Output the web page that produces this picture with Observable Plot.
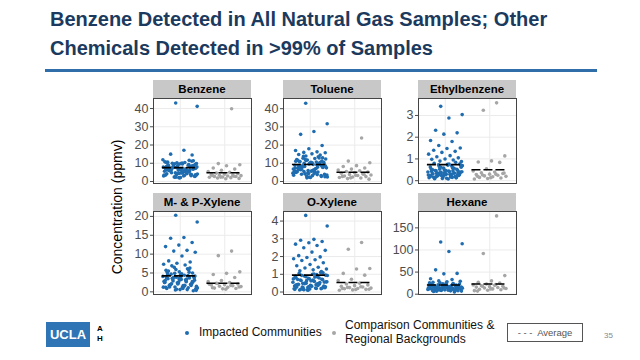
<!DOCTYPE html>
<html><head><meta charset="utf-8">
<script src="https://cdn.jsdelivr.net/npm/d3@7"></script>
<script src="https://cdn.jsdelivr.net/npm/@observablehq/plot@0.6"></script>
<style>
body{margin:0;background:#fff;}
#slide{position:relative;width:640px;height:360px;overflow:hidden;font-family:"Liberation Sans",Arial,sans-serif;background:#fff;}
.abs{position:absolute;white-space:nowrap;}
#title{left:50px;top:5px;font-weight:bold;font-size:20px;line-height:29px;color:#1b3a5e;}
#rule{left:45px;top:69px;width:552px;height:3px;background:#2f6ea8;}
.strip{position:absolute;background:#c8c8c8;color:#000;font-weight:bold;font-size:11.5px;text-align:center;}
#ylab{left:117px;top:207px;font-size:14px;color:#000;transform:translate(-50%,-50%) rotate(-90deg);}
.leg{font-size:12px;color:#111;}
.dot{position:absolute;width:4px;height:4px;border-radius:50%;}
#ucla{left:46px;top:322px;width:44px;height:25px;background:#2f74b5;color:#fff;font-weight:bold;font-size:13px;line-height:25px;text-align:center;}
#ah{left:97px;top:324px;font-size:8px;font-weight:bold;line-height:10px;color:#000;}
#avgbox{left:507px;top:323px;width:76px;height:19px;border:1px solid #555;box-sizing:border-box;font-size:9.5px;color:#555;line-height:17px;text-align:center;}
#page{left:604px;top:331px;font-size:8px;color:#888;}
</style>
</head><body>
<div id="slide">
  <div id="title" class="abs">Benzene Detected in All Natural Gas Samples; Other<br>Chemicals Detected in &gt;99% of Samples</div>
  <div id="rule" class="abs"></div>
  <div id="ylab" class="abs">Concentration (ppmv)</div>
  <div id="ucla" class="abs">UCLA</div>
  <div id="ah" class="abs">A<br>H</div>
  <div class="dot" style="left:185px;top:331px;background:#1f6db0"></div>
  <div class="abs leg" style="left:199px;top:325px;">Impacted Communities</div>
  <div class="dot" style="left:332px;top:331px;background:#a6a6a6"></div>
  <div class="abs leg" style="left:345px;top:318px;line-height:14px;">Comparison Communities &amp;<br>Regional Backgrounds</div>
  <div id="avgbox" class="abs">- - -&nbsp; Average</div>
  <div id="page" class="abs">35</div>
</div>
<script>
// ---------- data (ppmv) ----------
const chemicals = ["Benzene","Toluene","Ethylbenzene","M- & P-Xylene","O-Xylene","Hexane"];
const groups = ["Impacted Communities","Comparison Communities & Regional Backgrounds"];

const benzeneImpacted = [43.0,41.2,17.1,15.0,14.5,
 2.1,3.5,5.2,7.8,9.4,4.6,6.1,8.3,10.2,3.0,5.7,7.1,11.4,6.6,4.2,8.9,2.6,9.8,5.0,7.4,
 3.8,6.9,10.8,4.9,8.1,2.9,6.3,9.1,5.5,7.7,11.9,3.3,6.0,8.6,4.4,10.5,5.9,2.4,7.2,9.6,
 6.8,4.0,8.4,3.6,5.3,10.0,7.0,2.2,6.5,9.3,4.7,8.0,3.1,5.8,11.1,6.2,7.5,4.3,9.0,2.7,
 5.1,8.7,6.4,3.9,7.9,10.4,4.8,6.7,2.0,8.2,5.4,9.7,3.4,7.3,6.0,
 3.2,4.5,5.6,6.9,7.6,8.8,9.9,10.6,11.6,2.3,4.1,5.9,7.0,8.5,9.5,6.3,5.0,7.8,3.7,10.1];
const benzeneComparison = [39.9,9.8,9.2,8.6,7.4,6.8,6.2,5.5,5.0,4.6,4.3,4.0,3.8,3.6,3.4,3.2,3.0,2.8,2.7,2.5,2.3,2.1,1.9,1.7,1.5,3.3,2.9,2.4];

const tolueneImpacted = [43.0,31.7,27.5,25.9,19.8,18.0,17.0,16.3,16.0,15.8,15.2,14.8,14.5,
 2.0,3.5,5.1,6.8,8.4,10.2,12.1,13.6,4.2,7.5,9.3,11.0,2.8,6.0,8.9,10.7,12.8,3.9,5.6,7.2,9.8,11.5,
 4.6,6.4,8.1,13.0,2.4,5.0,7.8,10.0,12.4,3.2,6.6,9.0,11.8,4.9,7.0,8.6,10.5,2.2,5.4,9.5,12.0,
 3.6,6.2,8.0,11.2,4.4,7.4,9.2,13.8,2.6,5.8,8.8,10.4,3.0,6.9,12.6,4.0,7.7,9.9,11.4,5.2,8.3,2.9,6.1,10.9,
 3.3,4.7,5.9,7.1,8.2,9.4,10.6,11.7,12.9,14.0,2.5,4.3,6.5,7.9,9.6,11.1,3.8,5.5,8.5,10.3];
const tolueneComparison = [23.9,11.2,10.3,8.7,8.2,7.4,6.8,6.3,5.9,5.5,5.2,4.8,4.5,4.2,3.9,3.6,3.3,3.0,2.7,2.5,2.2,1.9,1.6,1.3,3.4,2.8,4.0,2.0];

const ethylbenzeneImpacted = [3.42,3.04,2.88,2.32,2.2,2.14,1.85,1.8,1.62,1.5,1.48,1.4,1.35,1.3,1.22,1.15,1.1,1.05,1.0,0.98,0.95,0.9,0.88,
 0.08,0.12,0.15,0.18,0.2,0.22,0.25,0.28,0.3,0.32,0.35,0.38,0.4,0.42,0.45,0.48,0.5,0.55,0.6,0.65,0.7,0.75,0.8,0.85,
 0.1,0.14,0.17,0.21,0.24,0.27,0.31,0.34,0.37,0.41,0.44,0.47,0.52,0.58,0.63,0.68,0.73,0.78,
 0.11,0.16,0.19,0.23,0.26,0.29,0.33,0.36,0.39,0.43,0.46,0.53,0.62,0.71,
 0.09,0.13,0.2,0.24,0.3,0.35,0.4,0.46,0.5,0.57,0.62,0.69,0.77,0.18,0.27,0.33,0.21,0.15,0.28,0.38];
const ethylbenzeneComparison = [3.58,3.24,1.14,0.91,0.86,0.84,0.55,0.45,0.4,0.36,0.33,0.3,0.28,0.25,0.22,0.2,0.18,0.15,0.12,0.1,0.08,0.3,0.26,0.35,0.14,0.2];

const mpXyleneImpacted = [20.3,18.5,14.4,14.2,13.1,12.4,12.0,11.0,10.8,10.5,9.5,8.2,7.9,7.6,7.3,7.1,6.9,
 0.3,0.6,0.9,1.1,1.3,1.5,1.7,1.9,2.1,2.3,2.5,2.7,2.9,3.1,3.3,3.5,3.7,3.9,4.1,4.4,4.7,5.0,5.3,5.7,6.1,6.5,
 0.8,1.2,1.6,2.0,2.4,2.8,3.2,3.6,4.0,4.5,5.1,5.8,
 0.5,1.0,1.4,1.8,2.2,2.6,3.0,3.4,3.8,4.2,4.8,5.5,6.3,
 0.7,1.25,1.75,2.15,2.65,3.15,3.75,4.3,4.9,
 0.4,0.9,1.3,1.7,2.1,2.5,2.9,3.3,3.7,4.1,4.6,5.2,5.9,1.0,1.5,2.0,2.7,3.5,1.2,0.6];
const mpXyleneComparison = [10.8,9.6,5.3,4.9,4.6,3.8,3.0,2.7,2.5,2.3,2.1,1.9,1.8,1.6,1.5,1.4,1.2,1.0,0.9,0.8,2.0,1.7,2.2,1.3,0.7,1.1];

const oXyleneImpacted = [4.32,3.72,2.97,2.92,2.85,2.78,2.7,2.62,2.5,2.35,2.25,2.05,1.98,1.95,1.88,1.82,1.78,1.65,1.55,1.48,1.4,1.35,1.3,1.25,1.2,1.15,
 0.1,0.15,0.2,0.25,0.3,0.35,0.4,0.45,0.5,0.55,0.6,0.65,0.7,0.75,0.8,0.85,0.9,0.95,1.0,1.05,1.1,
 0.12,0.18,0.22,0.28,0.33,0.38,0.42,0.48,0.52,0.58,0.62,0.68,0.72,0.78,0.88,0.98,
 0.14,0.24,0.32,0.44,0.54,0.64,0.74,0.84,0.94,1.08,0.17,0.27,0.37,0.47,0.57,0.67,
 0.11,0.19,0.26,0.34,0.41,0.49,0.56,0.63,0.71,0.79,0.86,0.93,1.02,0.16,0.23,0.31,0.39,0.46,0.13,0.29];
const oXyleneComparison = [2.79,2.41,1.33,1.3,1.05,0.95,0.72,0.65,0.5,0.45,0.4,0.36,0.32,0.28,0.25,0.22,0.2,0.18,0.15,0.12,0.1,0.3,0.26,0.16,0.14,0.2];

const hexaneImpacted = [118,114,96.5,55,47,46,35,33,30,29,28,
 6,8,10,12,14,16,18,20,22,24,26,7,9,11,13,15,17,19,21,23,25,27,5,8.5,10.5,12.5,14.5,16.5,18.5,20.5,22.5,
 9.5,11.5,13.5,15.5,17.5,19.5,21.5,7.5,12,14,16,18,10,13,15,17,11,14.8,16.2,19,12.2,13.8,15.2,17.8,20.2,9.2,11.2,14.2,16.8,
 6.5,8,9.8,11.8,13.2,14.6,16,17.2,18.8,20.8,23.5,25.5,10.8,12.8,15.8,18.2,7.8,9,11,13.6];
const hexaneComparison = [177,92,42,30,27,25,23,21,20,19,18,17,16,15,14,13,12,11,10,9,8,22,18,14,12,7];

// averages [impacted, comparison]
const benzeneAverages = [7.6, 4.8];
const tolueneAverages = [9.3, 5.1];
const ethylbenzeneAverages = [0.74, 0.5];
const mpXyleneAverages = [4.25, 2.3];
const oXyleneAverages = [0.95, 0.54];
const hexaneAverages = [20.7, 23];

// tick labels
const benzeneTicks = [0,10,20,30,40];
const tolueneTicks = [0,10,20,30,40];
const ethylbenzeneTicks = [0,1,2,3];
const mpXyleneTicks = [0,5,10,15,20];
const oXyleneTicks = [0,1,2,3,4];
const hexaneTicks = [0,50,100,150];

// ---------- layout ----------
const panels = [
  {imp: benzeneImpacted, cmp: benzeneComparison, avg: benzeneAverages, ticks: benzeneTicks, domain: [-1.1, 45.5]},
  {imp: tolueneImpacted, cmp: tolueneComparison, avg: tolueneAverages, ticks: tolueneTicks, domain: [-1.1, 45.6]},
  {imp: ethylbenzeneImpacted, cmp: ethylbenzeneComparison, avg: ethylbenzeneAverages, ticks: ethylbenzeneTicks, domain: [-0.13, 3.78]},
  {imp: mpXyleneImpacted, cmp: mpXyleneComparison, avg: mpXyleneAverages, ticks: mpXyleneTicks, domain: [-0.7, 21.3]},
  {imp: oXyleneImpacted, cmp: oXyleneComparison, avg: oXyleneAverages, ticks: oXyleneTicks, domain: [-0.14, 4.54]},
  {imp: hexaneImpacted, cmp: hexaneComparison, avg: hexaneAverages, ticks: hexaneTicks, domain: [-0.7, 187]}
];
const colLeft = [153, 283, 418];
const pw = 98;
const rowTop = [97.5, 210.5];
const rowH = [85, 83];
const stripH = 18;
const ml = 36;
const BLUE = "#1f6db0", GREY = "#a6a6a6";
const slide = document.getElementById("slide");
const jit = i => (((i * 0.6180339887 + 0.37) % 1) - 0.5) * 0.78;

panels.forEach((p, k) => {
  const col = k % 3, row = Math.floor(k / 3);
  const left = colLeft[col], top = rowTop[row], h = rowH[row];
  const impRows = p.imp.map((v, i) => ({x: 1 + jit(i), v}));
  const cmpRows = p.cmp.map((v, i) => ({x: 2 + jit(i + 7), v}));
  const avgRows = p.avg.map((v, i) => ({x1: i + 1 - 0.4, x2: i + 1 + 0.4, v}));
  const svg = Plot.plot({
    width: pw + ml + 1, height: h + 2,
    marginLeft: ml, marginRight: 1, marginTop: 1, marginBottom: 1,
    style: {fontFamily: "Liberation Sans, Arial, sans-serif", fontSize: "12.5px", color: "#4d4d4d", background: "transparent", overflow: "visible"},
    x: {domain: [0.4, 2.6], axis: null},
    y: {domain: p.domain, ticks: p.ticks, tickFormat: d => String(d), tickSize: 3, tickPadding: 2, label: null},
    marks: [
      Plot.ruleY(p.ticks, {stroke: "#ebebeb", strokeOpacity: 1}),
      Plot.ruleX([1, 2], {stroke: "#ebebeb", strokeOpacity: 1}),
      Plot.dot(impRows, {x: "x", y: "v", r: 1.8, fill: BLUE}),
      Plot.dot(cmpRows, {x: "x", y: "v", r: 1.8, fill: GREY}),
      Plot.ruleY(avgRows, {y: "v", x1: "x1", x2: "x2", stroke: "#000", strokeWidth: 1.6, strokeDasharray: "9,3"}),
      Plot.frame({stroke: "#444", strokeWidth: 1})
    ]
  });
  svg.style.position = "absolute";
  svg.style.left = (left - ml) + "px";
  svg.style.top = (top - 1) + "px";
  svg.style.maxWidth = "none";
  slide.appendChild(svg);
  const s = document.createElement("div");
  s.className = "strip";
  s.style.left = left + "px"; s.style.top = (top - stripH) + "px";
  s.style.width = pw + "px"; s.style.height = stripH + "px"; s.style.lineHeight = stripH + "px";
  s.textContent = chemicals[k];
  slide.appendChild(s);
});
</script>
</body></html>
